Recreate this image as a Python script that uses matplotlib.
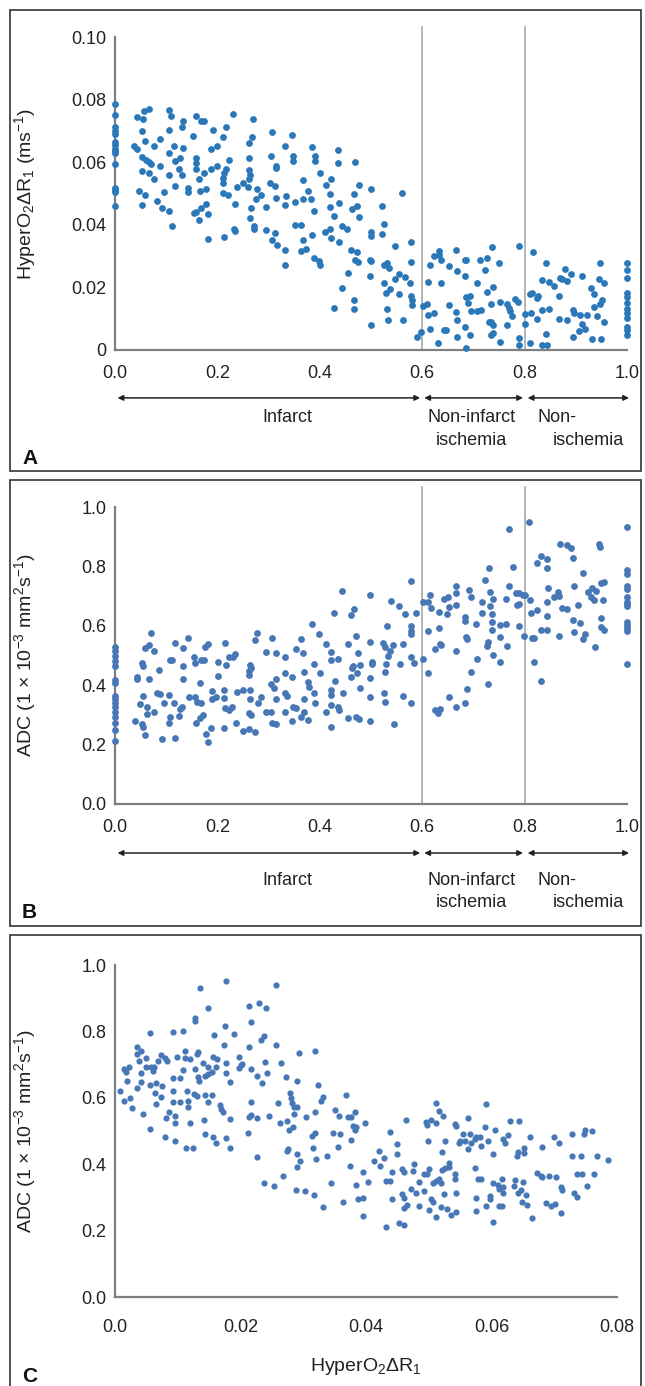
import matplotlib
matplotlib.use("Agg")
import matplotlib.pyplot as plt
from matplotlib.patches import Rectangle

plt.rcParams['font.family'] = ['Liberation Sans', 'DejaVu Sans']
plt.rcParams['mathtext.fontset'] = 'custom'
plt.rcParams['mathtext.rm'] = 'Liberation Sans'
plt.rcParams['mathtext.it'] = 'Liberation Sans'
plt.rcParams['mathtext.default'] = 'regular'

# ---------------- data ----------------
# Panel A: normalised position vs HyperO2 dR1
a_pts = [
    (0, 0.0787), (0, 0.0750), (0, 0.0713), (0, 0.0700), (0, 0.0690), (0, 0.0664), (0, 0.0656),
    (0, 0.0643), (0, 0.0635), (0, 0.0628), (0, 0.0593), (0, 0.0518), (0, 0.0510), (0, 0.0504), (0, 0.0460),
    (0.043, 0.0745), (0.054, 0.0738), (0.056, 0.0763), (0.066, 0.0770), (0.037, 0.0651), (0.043, 0.0643),
    (0.053, 0.0701), (0.058, 0.0667), (0.053, 0.0616), (0.061, 0.0606), (0.066, 0.0600), (0.071, 0.0593),
    (0.053, 0.0571), (0.066, 0.0564), (0.077, 0.0545), (0.076, 0.0651), (0.087, 0.0675), (0.087, 0.0587),
    (0.047, 0.0508), (0.058, 0.0496), (0.053, 0.0462), (0.082, 0.0477), (0.092, 0.0453), (0.095, 0.0506),
    (0.105, 0.0443), (0.111, 0.0396), (0.105, 0.0766), (0.110, 0.0749), (0.105, 0.0702), (0.106, 0.0628),
    (0.106, 0.0558), (0.115, 0.0651), (0.117, 0.0603), (0.126, 0.0614), (0.125, 0.0579), (0.131, 0.0560),
    (0.117, 0.0523), (0.130, 0.0713), (0.133, 0.0731), (0.133, 0.0646), (0.143, 0.0517), (0.143, 0.0506),
    (0.153, 0.0683), (0.159, 0.0747), (0.167, 0.0731), (0.174, 0.0732), (0.158, 0.0614), (0.158, 0.0596),
    (0.158, 0.0579), (0.164, 0.0547), (0.173, 0.0566), (0.166, 0.0508), (0.177, 0.0515), (0.154, 0.0438),
    (0.159, 0.0440), (0.167, 0.0453), (0.165, 0.0415), (0.177, 0.0465), (0.181, 0.0433), (0.181, 0.0355),
    (0.187, 0.0577), (0.188, 0.0641), (0.192, 0.0704), (0.200, 0.0587), (0.200, 0.0653), (0.210, 0.0681),
    (0.217, 0.0713), (0.231, 0.0754), (0.222, 0.0606), (0.217, 0.0577), (0.213, 0.0566), (0.211, 0.0550),
    (0.211, 0.0532), (0.210, 0.0502), (0.221, 0.0496), (0.234, 0.0468), (0.238, 0.0521), (0.250, 0.0534),
    (0.259, 0.0521), (0.261, 0.0547), (0.263, 0.0558), (0.261, 0.0575), (0.262, 0.0614), (0.261, 0.0660),
    (0.267, 0.0681), (0.269, 0.0738), (0.234, 0.0380), (0.232, 0.0385), (0.213, 0.0361), (0.266, 0.0453),
    (0.263, 0.0422), (0.272, 0.0396), (0.272, 0.0385), (0.278, 0.0513), (0.276, 0.0483), (0.286, 0.0494),
    (0.294, 0.0456), (0.294, 0.0383), (0.303, 0.0532), (0.312, 0.0523), (0.304, 0.0619), (0.315, 0.0589),
    (0.315, 0.0581), (0.307, 0.0696), (0.315, 0.0486), (0.312, 0.0375), (0.307, 0.0351), (0.316, 0.0337),
    (0.333, 0.0653), (0.334, 0.0492), (0.333, 0.0462), (0.333, 0.0318), (0.333, 0.0270), (0.346, 0.0688),
    (0.348, 0.0619), (0.348, 0.0603), (0.352, 0.0472), (0.351, 0.0398), (0.364, 0.0398), (0.368, 0.0543),
    (0.368, 0.0481), (0.376, 0.0508), (0.382, 0.0481), (0.389, 0.0444), (0.384, 0.0367), (0.368, 0.0353),
    (0.364, 0.0316), (0.374, 0.0323), (0.389, 0.0295), (0.399, 0.0284), (0.401, 0.0273), (0.384, 0.0649),
    (0.391, 0.0619), (0.391, 0.0603), (0.401, 0.0564), (0.412, 0.0526), (0.410, 0.0377), (0.420, 0.0500),
    (0.420, 0.0458), (0.422, 0.0545), (0.420, 0.0385), (0.422, 0.0359), (0.427, 0.0428), (0.435, 0.0638),
    (0.435, 0.0596), (0.437, 0.0470), (0.438, 0.0345), (0.443, 0.0396), (0.453, 0.0387), (0.460, 0.0321),
    (0.462, 0.0449), (0.469, 0.0600), (0.473, 0.0460), (0.476, 0.0425), (0.477, 0.0528), (0.467, 0.0500),
    (0.473, 0.0314), (0.469, 0.0289), (0.474, 0.0281), (0.455, 0.0245), (0.443, 0.0199), (0.427, 0.0134),
    (0.466, 0.0160), (0.467, 0.0130), (0.500, 0.0513), (0.500, 0.0377), (0.500, 0.0364), (0.499, 0.0289),
    (0.500, 0.0284), (0.499, 0.0238), (0.522, 0.0460), (0.525, 0.0404), (0.522, 0.0372), (0.525, 0.0273),
    (0.532, 0.0277), (0.536, 0.0262), (0.525, 0.0215), (0.529, 0.0183), (0.538, 0.0196), (0.546, 0.0332),
    (0.546, 0.0226), (0.554, 0.0242), (0.561, 0.0502), (0.566, 0.0234), (0.578, 0.0346), (0.579, 0.0281),
    (0.576, 0.0215), (0.555, 0.0178), (0.578, 0.0172), (0.580, 0.0160), (0.581, 0.0145), (0.531, 0.0132),
    (0.534, 0.0096), (0.562, 0.0096), (0.500, 0.0079), (0.589, 0.0043), (0.598, 0.0057),
    (0.601, 0.0140), (0.609, 0.0146), (0.611, 0.0217), (0.612, 0.0111), (0.616, 0.0068), (0.616, 0.0273),
    (0.624, 0.0300), (0.632, 0.0317), (0.632, 0.0305), (0.637, 0.0287), (0.624, 0.0119), (0.637, 0.0213),
    (0.642, 0.0064), (0.647, 0.0065), (0.652, 0.0268), (0.653, 0.0143), (0.666, 0.0319), (0.668, 0.0252),
    (0.666, 0.0121), (0.668, 0.0096), (0.668, 0.0043), (0.683, 0.0289), (0.686, 0.0289), (0.683, 0.0236),
    (0.685, 0.0170), (0.689, 0.0151), (0.694, 0.0172), (0.683, 0.0074), (0.693, 0.0047), (0.685, 0.0006),
    (0.696, 0.0124), (0.708, 0.0124), (0.714, 0.0127), (0.707, 0.0213), (0.712, 0.0287), (0.722, 0.0255),
    (0.727, 0.0295), (0.726, 0.0185), (0.737, 0.0329), (0.739, 0.0201), (0.735, 0.0148), (0.731, 0.0089),
    (0.735, 0.0089), (0.739, 0.0079), (0.735, 0.0047), (0.739, 0.0055), (0.750, 0.0277), (0.752, 0.0153),
    (0.752, 0.0027), (0.765, 0.0146), (0.769, 0.0135), (0.772, 0.0124), (0.775, 0.0109), (0.765, 0.0079),
    (0.781, 0.0164), (0.787, 0.0153), (0.790, 0.0332), (0.789, 0.0037), (0.789, 0.0015), (0.631, 0.0021),
    (0.801, 0.0114), (0.801, 0.0082),
    (0.810, 0.0178), (0.814, 0.0183), (0.817, 0.0313), (0.824, 0.0167), (0.827, 0.0174), (0.812, 0.0117),
    (0.824, 0.0100), (0.842, 0.0279), (0.834, 0.0223), (0.847, 0.0217), (0.834, 0.0128), (0.847, 0.0130),
    (0.842, 0.0052), (0.834, 0.0015), (0.844, 0.0015), (0.810, 0.0023), (0.857, 0.0206), (0.867, 0.0172),
    (0.870, 0.0231), (0.873, 0.0226), (0.883, 0.0220), (0.878, 0.0260), (0.890, 0.0242), (0.867, 0.0098),
    (0.883, 0.0095), (0.895, 0.0128), (0.896, 0.0117), (0.908, 0.0111), (0.913, 0.0236), (0.895, 0.0043),
    (0.906, 0.0061), (0.913, 0.0083), (0.917, 0.0066), (0.922, 0.0111), (0.929, 0.0199), (0.936, 0.0178),
    (0.947, 0.0279), (0.945, 0.0228), (0.955, 0.0215), (0.952, 0.0160), (0.947, 0.0146), (0.936, 0.0138),
    (0.942, 0.0109), (0.955, 0.0089), (0.932, 0.0034), (0.949, 0.0034),
    (1, 0.0278), (1, 0.0254), (1, 0.0230), (1, 0.0183), (1, 0.0170), (1, 0.0151), (1, 0.0130),
    (1, 0.0117), (1, 0.0103), (1, 0.0074), (1, 0.0064), (1, 0.0047),
]

# Panel B: normalised position vs ADC
b_pts = [
    (0, 0.530), (0, 0.516), (0, 0.498), (0, 0.482), (0, 0.465), (0, 0.417), (0, 0.408), (0, 0.364),
    (0, 0.352), (0, 0.339), (0, 0.328), (0, 0.310), (0, 0.292), (0, 0.274), (0, 0.249), (0, 0.213),
    (0.039, 0.281), (0.043, 0.429), (0.043, 0.420), (0.048, 0.337), (0.053, 0.269), (0.054, 0.260),
    (0.059, 0.232), (0.054, 0.364), (0.063, 0.303), (0.063, 0.328), (0.066, 0.420), (0.052, 0.476),
    (0.054, 0.465), (0.058, 0.524), (0.066, 0.535), (0.071, 0.577), (0.076, 0.516), (0.077, 0.311),
    (0.083, 0.375), (0.087, 0.370), (0.086, 0.451), (0.091, 0.218), (0.096, 0.341), (0.105, 0.274),
    (0.107, 0.294), (0.106, 0.367), (0.107, 0.485), (0.112, 0.485), (0.115, 0.341), (0.118, 0.223),
    (0.118, 0.541), (0.125, 0.296), (0.127, 0.319), (0.130, 0.328), (0.133, 0.420), (0.132, 0.465),
    (0.133, 0.526), (0.143, 0.558), (0.144, 0.361), (0.156, 0.361), (0.154, 0.494), (0.157, 0.476),
    (0.158, 0.272), (0.161, 0.344), (0.166, 0.406), (0.167, 0.341), (0.168, 0.485), (0.174, 0.485),
    (0.176, 0.530), (0.182, 0.539), (0.171, 0.300), (0.166, 0.288), (0.177, 0.236), (0.182, 0.210),
    (0.188, 0.255), (0.189, 0.352), (0.190, 0.381), (0.201, 0.479), (0.201, 0.431), (0.197, 0.359),
    (0.212, 0.384), (0.212, 0.356), (0.212, 0.257), (0.215, 0.322), (0.222, 0.316), (0.216, 0.468),
    (0.214, 0.543), (0.222, 0.496), (0.230, 0.496), (0.235, 0.505), (0.228, 0.328), (0.238, 0.378),
    (0.237, 0.272), (0.250, 0.384), (0.250, 0.246), (0.263, 0.384), (0.263, 0.352), (0.262, 0.434),
    (0.262, 0.449), (0.264, 0.468), (0.266, 0.457), (0.261, 0.307), (0.266, 0.300), (0.262, 0.251),
    (0.273, 0.243), (0.279, 0.341), (0.286, 0.359), (0.274, 0.552), (0.277, 0.577), (0.294, 0.513),
    (0.294, 0.311), (0.304, 0.311), (0.304, 0.404), (0.310, 0.392), (0.307, 0.558), (0.314, 0.509),
    (0.315, 0.420), (0.315, 0.352), (0.307, 0.274), (0.314, 0.269), (0.333, 0.494), (0.333, 0.442),
    (0.333, 0.373), (0.335, 0.364), (0.333, 0.311), (0.346, 0.426), (0.346, 0.281), (0.348, 0.328),
    (0.353, 0.322), (0.353, 0.521), (0.363, 0.554), (0.367, 0.507), (0.369, 0.445), (0.376, 0.412),
    (0.379, 0.395), (0.369, 0.352), (0.369, 0.311), (0.363, 0.294), (0.376, 0.283), (0.384, 0.606),
    (0.389, 0.473), (0.389, 0.373), (0.391, 0.341), (0.399, 0.574), (0.400, 0.442), (0.412, 0.539),
    (0.412, 0.309), (0.422, 0.513), (0.422, 0.485), (0.422, 0.384), (0.422, 0.367), (0.422, 0.333),
    (0.422, 0.260), (0.429, 0.415), (0.428, 0.644), (0.435, 0.487), (0.435, 0.325), (0.438, 0.316),
    (0.445, 0.375), (0.443, 0.718), (0.455, 0.539), (0.455, 0.288), (0.461, 0.426), (0.463, 0.457),
    (0.464, 0.465), (0.461, 0.636), (0.466, 0.655), (0.471, 0.565), (0.474, 0.507), (0.473, 0.442),
    (0.478, 0.468), (0.478, 0.389), (0.471, 0.292), (0.476, 0.286), (0.499, 0.546), (0.501, 0.479),
    (0.501, 0.471), (0.499, 0.423), (0.499, 0.361), (0.499, 0.281), (0.499, 0.703), (0.525, 0.375),
    (0.527, 0.344), (0.527, 0.445), (0.530, 0.471), (0.533, 0.499), (0.531, 0.599), (0.523, 0.543),
    (0.527, 0.530), (0.538, 0.516), (0.543, 0.535), (0.539, 0.684), (0.545, 0.268), (0.555, 0.666),
    (0.556, 0.471), (0.562, 0.539), (0.562, 0.364), (0.566, 0.640), (0.579, 0.752), (0.578, 0.599),
    (0.578, 0.583), (0.579, 0.572), (0.578, 0.494), (0.584, 0.476), (0.579, 0.341), (0.588, 0.644),
    (0.601, 0.487), (0.602, 0.681), (0.612, 0.681), (0.611, 0.583), (0.611, 0.442), (0.615, 0.703),
    (0.617, 0.659), (0.625, 0.521), (0.632, 0.591), (0.632, 0.647), (0.634, 0.539), (0.637, 0.535),
    (0.625, 0.316), (0.630, 0.305), (0.634, 0.319), (0.642, 0.689), (0.648, 0.640), (0.651, 0.696),
    (0.653, 0.662), (0.653, 0.359), (0.666, 0.734), (0.666, 0.711), (0.666, 0.670), (0.666, 0.516),
    (0.666, 0.328), (0.684, 0.631), (0.684, 0.617), (0.686, 0.563), (0.687, 0.554), (0.684, 0.339),
    (0.687, 0.386), (0.692, 0.720), (0.695, 0.696), (0.695, 0.445), (0.706, 0.606), (0.707, 0.487),
    (0.716, 0.681), (0.716, 0.644), (0.722, 0.754), (0.726, 0.532), (0.728, 0.546), (0.731, 0.793),
    (0.733, 0.715), (0.733, 0.666), (0.737, 0.640), (0.739, 0.689), (0.737, 0.614), (0.737, 0.586),
    (0.739, 0.502), (0.751, 0.603), (0.751, 0.563), (0.751, 0.477), (0.728, 0.404), (0.763, 0.689),
    (0.764, 0.606), (0.765, 0.533), (0.770, 0.925), (0.770, 0.734), (0.778, 0.797), (0.783, 0.709),
    (0.789, 0.709), (0.786, 0.670), (0.789, 0.672), (0.789, 0.599), (0.796, 0.704), (0.799, 0.565),
    (0.801, 0.704), (0.808, 0.948), (0.811, 0.687), (0.812, 0.642), (0.815, 0.558), (0.819, 0.560),
    (0.819, 0.479), (0.824, 0.653), (0.833, 0.415), (0.825, 0.810), (0.833, 0.835), (0.844, 0.824),
    (0.844, 0.793), (0.845, 0.726), (0.843, 0.681), (0.844, 0.634), (0.832, 0.586), (0.844, 0.586),
    (0.858, 0.698), (0.865, 0.715), (0.868, 0.700), (0.867, 0.565), (0.870, 0.877), (0.883, 0.872),
    (0.890, 0.861), (0.874, 0.661), (0.883, 0.655), (0.895, 0.827), (0.896, 0.734), (0.895, 0.619),
    (0.904, 0.670), (0.909, 0.608), (0.896, 0.578), (0.914, 0.779), (0.917, 0.574), (0.914, 0.554),
    (0.924, 0.715), (0.930, 0.698), (0.932, 0.726), (0.935, 0.687), (0.937, 0.530), (0.940, 0.718),
    (0.945, 0.877), (0.948, 0.864), (0.949, 0.745), (0.953, 0.687), (0.956, 0.748), (0.949, 0.625),
    (0.949, 0.595), (0.956, 0.586),
    (1, 0.934), (1, 0.788), (1, 0.774), (1, 0.734), (1, 0.723), (1, 0.698), (1, 0.681), (1, 0.673),
    (1, 0.666), (1, 0.614), (1, 0.603), (1, 0.591), (1, 0.582), (1, 0.473),
]

# Panel C: HyperO2 dR1 vs ADC
c_pts = [
    (0.0008, 0.621), (0.0015, 0.591), (0.0015, 0.686), (0.0018, 0.679), (0.0023, 0.692), (0.0024, 0.598),
    (0.0019, 0.652), (0.0027, 0.568), (0.0035, 0.752), (0.0035, 0.732), (0.0041, 0.741), (0.0038, 0.711),
    (0.0035, 0.629), (0.0041, 0.676), (0.0041, 0.649), (0.0044, 0.551), (0.0049, 0.721), (0.0049, 0.692),
    (0.0056, 0.639), (0.0056, 0.506), (0.0056, 0.796), (0.0057, 0.692), (0.0060, 0.682), (0.0062, 0.692),
    (0.0063, 0.615), (0.0066, 0.581), (0.0066, 0.646), (0.0069, 0.711), (0.0073, 0.603), (0.0074, 0.729),
    (0.0075, 0.636), (0.0080, 0.719), (0.0083, 0.711), (0.0081, 0.538), (0.0080, 0.483), (0.0086, 0.558),
    (0.0092, 0.799), (0.0093, 0.659), (0.0092, 0.621), (0.0092, 0.588), (0.0096, 0.545), (0.0096, 0.523),
    (0.0096, 0.471), (0.0099, 0.722), (0.0103, 0.659), (0.0104, 0.588), (0.0109, 0.802), (0.0109, 0.684),
    (0.0112, 0.741), (0.0112, 0.719), (0.0115, 0.621), (0.0116, 0.591), (0.0117, 0.571), (0.0120, 0.716),
    (0.0120, 0.525), (0.0113, 0.450), (0.0125, 0.450), (0.0126, 0.611), (0.0131, 0.605), (0.0127, 0.686),
    (0.0131, 0.731), (0.0133, 0.739), (0.0133, 0.664), (0.0134, 0.652), (0.0128, 0.839), (0.0128, 0.832),
    (0.0136, 0.932), (0.0141, 0.704), (0.0143, 0.666), (0.0143, 0.608), (0.0148, 0.869), (0.0149, 0.672),
    (0.0148, 0.694), (0.0149, 0.588), (0.0154, 0.679), (0.0155, 0.608), (0.0156, 0.722), (0.0157, 0.788),
    (0.0142, 0.533), (0.0143, 0.491), (0.0156, 0.481), (0.0161, 0.463), (0.0163, 0.716), (0.0161, 0.692),
    (0.0167, 0.578), (0.0169, 0.565), (0.0172, 0.558), (0.0174, 0.759), (0.0175, 0.816), (0.0177, 0.953),
    (0.0177, 0.704), (0.0177, 0.676), (0.0177, 0.478), (0.0184, 0.649), (0.0184, 0.448), (0.0184, 0.536),
    (0.0190, 0.791), (0.0198, 0.689), (0.0198, 0.724), (0.0201, 0.699), (0.0203, 0.702), (0.0213, 0.876),
    (0.0216, 0.829), (0.0213, 0.754), (0.0217, 0.688), (0.0216, 0.588), (0.0214, 0.541), (0.0216, 0.548),
    (0.0212, 0.495), (0.0226, 0.666), (0.0230, 0.885), (0.0233, 0.774), (0.0237, 0.786), (0.0234, 0.646),
    (0.0241, 0.869), (0.0239, 0.709), (0.0243, 0.674), (0.0227, 0.540), (0.0246, 0.545), (0.0256, 0.940),
    (0.0257, 0.759), (0.0265, 0.704), (0.0259, 0.583), (0.0263, 0.523), (0.0273, 0.664), (0.0274, 0.531),
    (0.0276, 0.445), (0.0274, 0.441), (0.0279, 0.615), (0.0280, 0.598), (0.0278, 0.503), (0.0283, 0.513),
    (0.0282, 0.583), (0.0286, 0.551), (0.0286, 0.573), (0.0290, 0.652), (0.0290, 0.571), (0.0294, 0.734),
    (0.0319, 0.741), (0.0305, 0.543), (0.0314, 0.485), (0.0318, 0.495), (0.0315, 0.448), (0.0319, 0.558),
    (0.0323, 0.639), (0.0331, 0.603), (0.0329, 0.591), (0.0321, 0.415), (0.0338, 0.425), (0.0290, 0.431),
    (0.0295, 0.411), (0.0290, 0.391), (0.0267, 0.364), (0.0237, 0.342), (0.0253, 0.334), (0.0226, 0.421),
    (0.0289, 0.322), (0.0302, 0.320), (0.0317, 0.307), (0.0331, 0.272), (0.0347, 0.495), (0.0351, 0.563),
    (0.0357, 0.545), (0.0359, 0.490), (0.0355, 0.453), (0.0368, 0.608), (0.0372, 0.543), (0.0376, 0.543),
    (0.0383, 0.558), (0.0379, 0.515), (0.0384, 0.513), (0.0383, 0.503), (0.0376, 0.473), (0.0398, 0.525),
    (0.0345, 0.344), (0.0364, 0.285), (0.0375, 0.395), (0.0384, 0.337), (0.0387, 0.294), (0.0395, 0.378),
    (0.0395, 0.297), (0.0395, 0.245), (0.0403, 0.347),
    (0.0413, 0.411), (0.0420, 0.440), (0.0423, 0.395), (0.0428, 0.418), (0.0438, 0.498), (0.0438, 0.350),
    (0.0442, 0.377), (0.0442, 0.295), (0.0449, 0.461), (0.0449, 0.431), (0.0457, 0.387), (0.0461, 0.378),
    (0.0464, 0.533), (0.0457, 0.310), (0.0460, 0.297), (0.0461, 0.267), (0.0465, 0.277), (0.0472, 0.324),
    (0.0477, 0.400), (0.0475, 0.380), (0.0480, 0.314), (0.0485, 0.345), (0.0485, 0.274), (0.0493, 0.370),
    (0.0493, 0.320), (0.0495, 0.528), (0.0497, 0.518), (0.0499, 0.471), (0.0501, 0.385), (0.0498, 0.370),
    (0.0501, 0.262), (0.0504, 0.294), (0.0506, 0.287), (0.0504, 0.533), (0.0511, 0.523), (0.0511, 0.583),
    (0.0517, 0.561), (0.0522, 0.546), (0.0511, 0.349), (0.0506, 0.342), (0.0516, 0.354), (0.0519, 0.344),
    (0.0521, 0.383), (0.0521, 0.438), (0.0526, 0.388), (0.0525, 0.310), (0.0511, 0.240), (0.0519, 0.272),
    (0.0529, 0.264), (0.0533, 0.403), (0.0533, 0.391), (0.0535, 0.247), (0.0542, 0.521), (0.0543, 0.515),
    (0.0542, 0.370), (0.0542, 0.354), (0.0543, 0.312), (0.0543, 0.255), (0.0526, 0.470), (0.0548, 0.465),
    (0.0550, 0.471), (0.0555, 0.491), (0.0558, 0.471), (0.0562, 0.445), (0.0563, 0.538), (0.0566, 0.490),
    (0.0567, 0.465), (0.0573, 0.475), (0.0575, 0.481), (0.0581, 0.481), (0.0584, 0.456), (0.0589, 0.513),
    (0.0592, 0.581), (0.0594, 0.471), (0.0573, 0.388), (0.0578, 0.354), (0.0584, 0.354), (0.0576, 0.299),
    (0.0575, 0.260), (0.0591, 0.274), (0.0598, 0.304), (0.0597, 0.294), (0.0602, 0.431), (0.0602, 0.344),
    (0.0602, 0.227), (0.0606, 0.503), (0.0610, 0.337), (0.0612, 0.324), (0.0616, 0.356), (0.0618, 0.332),
    (0.0616, 0.274), (0.0612, 0.274), (0.0619, 0.312), (0.0619, 0.475), (0.0622, 0.465), (0.0626, 0.488),
    (0.0629, 0.531), (0.0636, 0.334), (0.0638, 0.352), (0.0640, 0.425), (0.0643, 0.438), (0.0644, 0.531),
    (0.0643, 0.314), (0.0647, 0.322), (0.0651, 0.435), (0.0651, 0.450), (0.0650, 0.346), (0.0655, 0.307),
    (0.0649, 0.285), (0.0656, 0.277), (0.0662, 0.483), (0.0665, 0.239), (0.0672, 0.374), (0.0679, 0.364),
    (0.0680, 0.360), (0.0680, 0.453), (0.0687, 0.282), (0.0692, 0.365), (0.0695, 0.275), (0.0701, 0.280),
    (0.0703, 0.362), (0.0700, 0.483), (0.0707, 0.465), (0.0711, 0.332), (0.0712, 0.322), (0.0710, 0.252),
    (0.0728, 0.491), (0.0728, 0.425), (0.0731, 0.312), (0.0736, 0.302), (0.0736, 0.369), (0.0743, 0.425),
    (0.0744, 0.369), (0.0747, 0.490), (0.0749, 0.503), (0.0752, 0.334), (0.0760, 0.500), (0.0763, 0.371),
    (0.0768, 0.425), (0.0785, 0.413), (0.0432, 0.210), (0.0453, 0.222), (0.0460, 0.216), (0.0432, 0.350),
]

a_x, a_y = zip(*a_pts)
b_x, b_y = zip(*b_pts)
c_x, c_y = zip(*c_pts)

ab_xticks = [0.0, 0.2, 0.4, 0.6, 0.8, 1.0]
ab_xticklabels = ['0.0', '0.2', '0.4', '0.6', '0.8', '1.0']
a_yticks = [0, 0.02, 0.04, 0.06, 0.08, 0.10]
a_yticklabels = ['0', '0.02', '0.04', '0.06', '0.08', '0.10']
adc_ticks = [0.0, 0.2, 0.4, 0.6, 0.8, 1.0]
adc_ticklabels = ['0.0', '0.2', '0.4', '0.6', '0.8', '1.0']
c_xticks = [0.0, 0.02, 0.04, 0.06, 0.08]
c_xticklabels = ['0.0', '0.02', '0.04', '0.06', '0.08']
boundaries = [0.6, 0.8]
regions = [(0.005, 0.596, 'Infarct'), (0.604, 0.797, 'Non-infarct\nischemia'), (0.806, 1.004, 'Non-\nischemia')]

# ---------------- figure ----------------
W, H = 645, 1386
fig = plt.figure(figsize=(W / 100, H / 100), dpi=100)

def ax_rect(left, right, top, bottom):
    return [left / W, 1 - bottom / H, (right - left) / W, (bottom - top) / H]

def box(left, top, right, bottom):
    fig.patches.append(Rectangle((left / W, 1 - bottom / H), (right - left) / W, (bottom - top) / H,
                                 transform=fig.transFigure, fill=False, ec='#333333', lw=1.2))

box(10, 10, 641, 471)
box(10, 480, 641, 926)
box(10, 935, 641, 1392)

TXT = '#222222'
FS = 13

def style(ax):
    for s in ['top', 'right']:
        ax.spines[s].set_visible(False)
    for s in ['left', 'bottom']:
        ax.spines[s].set_color('#7f7f7f')
        ax.spines[s].set_linewidth(1.6)
    ax.tick_params(length=0, labelsize=FS, colors=TXT)
    ax.tick_params(axis='x', pad=11)
    ax.tick_params(axis='y', pad=6)

ylab_A = r'HyperO$_2$ΔR$_1$ (ms$^{-1}$)'
ylab_ADC = r'ADC (1 × 10$^{-3}$ mm$^2$s$^{-1}$)'

# ---- Panel A ----
axA = fig.add_axes(ax_rect(115, 627, 37, 350))
style(axA)
axA.scatter(a_x, a_y, s=24, color='#2b78b9', linewidths=0, zorder=3, clip_on=False)
axA.set_xlim(0, 1.0)
axA.set_ylim(0, 0.10)
axA.set_xticks(ab_xticks, ab_xticklabels)
axA.set_yticks(a_yticks, a_yticklabels)
for b in boundaries:
    axA.axvline(b, ymin=0, ymax=1.032, color='#a8a8a8', lw=1.2, clip_on=False, zorder=1)
axA.set_ylabel(ylab_A, fontsize=14, color=TXT)
axA.yaxis.set_label_coords(-0.15, 0.5)

# ---- Panel B ----
axB = fig.add_axes(ax_rect(115, 627, 507, 804))
style(axB)
axB.scatter(b_x, b_y, s=24, color='#4777b5', linewidths=0, zorder=3, clip_on=False)
axB.set_xlim(0, 1.0)
axB.set_ylim(0, 1.0)
axB.set_xticks(ab_xticks, ab_xticklabels)
axB.set_yticks(adc_ticks, adc_ticklabels)
for b in boundaries:
    axB.axvline(b, ymin=0, ymax=1.067, color='#a8a8a8', lw=1.2, clip_on=False, zorder=1)
axB.set_ylabel(ylab_ADC, fontsize=14, color=TXT)
axB.yaxis.set_label_coords(-0.15, 0.5)

def region_annotations(ax, y_arrow, y_t1, y_t2):
    for (x0, x1, label) in regions:
        ax.annotate('', xy=(x1, y_arrow), xytext=(x0, y_arrow),
                    xycoords=('data', 'axes fraction'), textcoords=('data', 'axes fraction'),
                    arrowprops=dict(arrowstyle='<|-|>', color=TXT, lw=1.1,
                                    shrinkA=0, shrinkB=0, mutation_scale=8),
                    annotation_clip=False)
    tr = ax.get_xaxis_transform()
    ax.text(0.336, y_t1, 'Infarct', transform=tr, ha='center', va='center', fontsize=FS, color=TXT)
    ax.text(0.697, y_t1, 'Non-infarct', transform=tr, ha='center', va='center', fontsize=FS, color=TXT)
    ax.text(0.697, y_t2, 'ischemia', transform=tr, ha='center', va='center', fontsize=FS, color=TXT)
    ax.text(0.825, y_t1, 'Non-', transform=tr, ha='left', va='center', fontsize=FS, color=TXT)
    ax.text(0.925, y_t2, 'ischemia', transform=tr, ha='center', va='center', fontsize=FS, color=TXT)

region_annotations(axA, -0.153, -0.217, -0.288)
region_annotations(axB, -0.165, -0.256, -0.333)

# ---- Panel C ----
axC = fig.add_axes(ax_rect(115, 617, 965, 1297))
style(axC)
axC.scatter(c_x, c_y, s=20, color='#4777b5', linewidths=0, zorder=3, clip_on=False)
axC.set_xlim(0, 0.08)
axC.set_ylim(0, 1.0)
axC.set_xticks(c_xticks, c_xticklabels)
axC.set_yticks(adc_ticks, adc_ticklabels)
axC.tick_params(axis='x', pad=16)
axC.set_ylabel(ylab_ADC, fontsize=14, color=TXT)
axC.yaxis.set_label_coords(-0.153, 0.5)
axC.set_xlabel(r'HyperO$_2$ΔR$_1$', fontsize=14, color=TXT, labelpad=14)

# panel letters
for letter, py in [('A', 458), ('B', 912), ('C', 1376)]:
    fig.text(22 / W, 1 - py / H, letter, fontsize=15, fontweight='bold', color='#111111',
             ha='left', va='center')

fig.savefig('out.png', dpi=100)
